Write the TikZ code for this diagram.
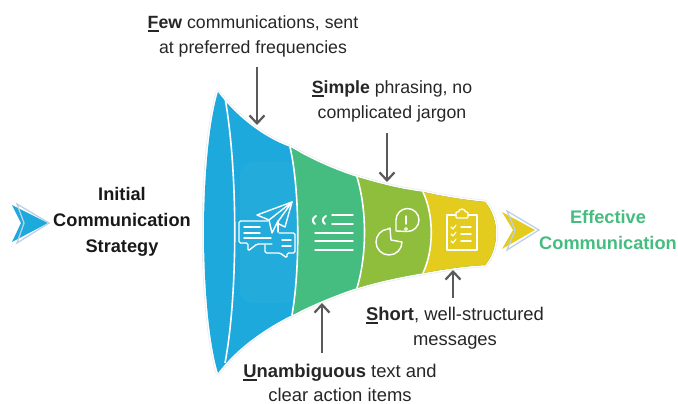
\documentclass[tikz,border=0pt]{standalone}
\usepackage{fontspec}
\setmainfont{Liberation Sans}
\usetikzlibrary{arrows.meta}
\definecolor{cblue}{HTML}{1EA9DC}
\definecolor{cgreen}{HTML}{45BC80}
\definecolor{clime}{HTML}{8FBE3C}
\definecolor{cyellow}{HTML}{E3CC1E}
\definecolor{cdark}{HTML}{5A5A5A}
\definecolor{cpale}{HTML}{BCD0E6}
\newcommand{\ulc}[1]{\setbox0\hbox{\textbf{#1}}\rlap{\rule[-3pt]{\wd0}{1.7pt}}\box0\relax}
\tikzset{
  lab/.style={align=center,inner sep=0pt,text=black!85,font=\fontsize{17.7}{24.5}\selectfont},
  labwide/.style={align=center,inner sep=0pt,text=black!85,font=\fontsize{18.4}{24.5}\selectfont},
  head/.style={align=center,inner sep=0pt,font=\fontsize{18.2}{25.7}\selectfont\bfseries},
  pointer/.style={draw=cdark,line width=2.2pt,-{Straight Barb[length=8pt,width=15pt,line width=2.2pt]}},
  icon/.style={draw=white,line width=1.4pt,line join=round,line cap=round},
  sep/.style={draw=white,line width=1.6pt},
  chevpale/.style={draw=cpale,line width=1.3pt,line join=miter}
}
\begin{document}
\begin{tikzpicture}[x=1pt,y=-1pt]
\useasboundingbox (0,0) rectangle (678,404);
\def\funnel{(218,92) .. controls (235,115) and (262,137) .. (290,147)
  .. controls (312,160) and (335,170) .. (357,177)
  .. controls (380,184) and (400,189) .. (423,192)
  .. controls (445,197) and (465,200) .. (485,202)
  .. controls (492,210) and (496,222) .. (496,233)
  .. controls (496,245) and (492,257) .. (485,265)
  .. controls (465,266) and (445,269) .. (423,273)
  .. controls (400,277) and (380,281) .. (357,288)
  .. controls (335,295) and (312,305) .. (292,315)
  .. controls (262,330) and (235,350) .. (218,373)
  .. controls (208,340) and (204,280) .. (204,232)
  .. controls (204,185) and (208,125) .. (218,92) -- cycle}
% halo
\draw[black!8,line width=4.5pt,line join=round] \funnel;
\draw[white,line width=3pt,line join=round] \funnel;
\begin{scope}
  \clip \funnel;
  \fill[cblue] (200,85) rectangle (300,380);
  \fill[cgreen] (290,147) .. controls (300,190) and (300,270) .. (292,315) -- (292,380) -- (500,380) -- (500,85) -- (290,85) -- cycle;
  \fill[clime] (357,177) .. controls (367,210) and (367,255) .. (357,288) -- (357,380) -- (500,380) -- (500,85) -- (357,85) -- cycle;
  \fill[cyellow] (423,192) .. controls (434,215) and (434,250) .. (423,273) -- (423,380) -- (500,380) -- (500,85) -- (423,85) -- cycle;
  \fill[white,opacity=.025,rounded corners=12pt] (240,162) rectangle (298,303);
\end{scope}
\draw[sep] (225,98) .. controls (238,170) and (238,295) .. (225,363);
\draw[sep] (290,147) .. controls (300,190) and (300,270) .. (292,315);
\draw[sep] (357,177) .. controls (367,210) and (367,255) .. (357,288);
\draw[sep] (423,192) .. controls (434,215) and (434,250) .. (423,273);

% chevrons
\fill[cblue] (12,205) -- (48,223) -- (12,242) -- (21,223) -- cycle;
\draw[chevpale] (17,204) -- (49,223) -- (17,243) -- (24,223) -- cycle;
\fill[cyellow] (502,212) -- (535,230) -- (502,249) -- (513,230) -- cycle;
\draw[chevpale] (507,211) -- (539,230) -- (507,250) -- (515,230) -- cycle;

% headings
\node[head,text=black!90] (start) at (122,222) {Initial\\Communication\\Strategy};
\node[head,text=cgreen] (goal) at (608,230) {Effective\\Communication};

% labels
\node[lab] (few) at (253,36.5) {\ulc{F}\textbf{ew} communications, sent\\at preferred frequencies};
\node[lab] (simple) at (392,101.5) {\ulc{S}\textbf{imple} phrasing, no\\complicated jargon};
\node[labwide] (short) at (455,328) {\ulc{S}\textbf{hort}, well-structured\\messages};
\node[labwide,font=\fontsize{18.4}{24}\selectfont] (unamb) at (340,383) {\ulc{U}\textbf{nambiguous} text and\\clear action items};

% pointers
\coordinate (p1a) at (257,67); \coordinate (p1b) at (257,125);
\coordinate (p2a) at (387,133); \coordinate (p2b) at (387,182);
\coordinate (p3a) at (322,353); \coordinate (p3b) at (322,303);
\coordinate (p4a) at (453,298); \coordinate (p4b) at (453,270);
\draw[pointer] (p1a) -- (p1b);
\draw[pointer] (p2a) -- (p2b);
\draw[pointer] (p3a) -- (p3b);
\draw[pointer] (p4a) -- (p4b);

% icon: plane and bubbles
\draw[icon] (292,202) -- (257,215) -- (269,220) -- (272,233) -- (277,223) -- (285,227) -- cycle;
\draw[icon] (269,220) -- (292,202) -- (277,223);
\draw[icon] (268,221) [rounded corners=1.5pt] -- (239,221) -- (239,243) -- (248,243) -- (248,251) -- (257,244) -- (272,244);
\draw[icon] (278,232) -- (278,221);
\draw[icon] (244,227) -- (260,227) (244,233) -- (260,233) (244,238) -- (271,238);
\draw[icon] (279,233) [rounded corners=1.5pt] -- (295,233) -- (295,253) -- (287,253) -- (287,258) -- (280,253) -- (265,253) -- (265,245);
\draw[icon] (282,240) -- (291,240) (282,246) -- (291,246);

% icon: quote and text
\draw[icon,line width=2pt] (316,216) .. controls (312,218) and (312,222) .. (315,224);
\draw[icon,line width=2pt] (326,216) .. controls (322,218) and (322,222) .. (325,224);
\draw[icon] (332,215) -- (353,215) (332,224) -- (353,224) (315,233) -- (353,233) (315,241) -- (353,241) (315,250) -- (353,250);

% icon: pie and clock
\draw[icon] (390,228) -- (391,240) -- (402,242) arc[start angle=0,end angle=-265,radius=13pt] -- cycle;
\draw[icon] (396,231) -- (396,220) arc[start angle=180,end angle=-90,radius=11.5pt] -- cycle;
\draw[icon] (406,216) -- (406,224);
\draw[icon,line width=1pt] (406,229) circle[radius=1.5pt];

% icon: clipboard
\draw[icon] (456,215) -- (447,215) -- (447,250) -- (477,250) -- (477,215) -- (468,215);
\draw[icon,rounded corners=1pt] (456,218) -- (456,212) -- (459,212) arc[start angle=180,end angle=0,radius=3pt] -- (468,212) -- (468,218) -- cycle;
\draw[icon,line width=1.1pt] (451,227) -- (453,229) -- (456,225) (451,234) -- (453,236) -- (456,232) (451,241) -- (453,243) -- (456,239);
\draw[icon] (461,227) -- (471,227) (461,234) -- (471,234) (461,241) -- (471,241);
\end{tikzpicture}
\end{document}
